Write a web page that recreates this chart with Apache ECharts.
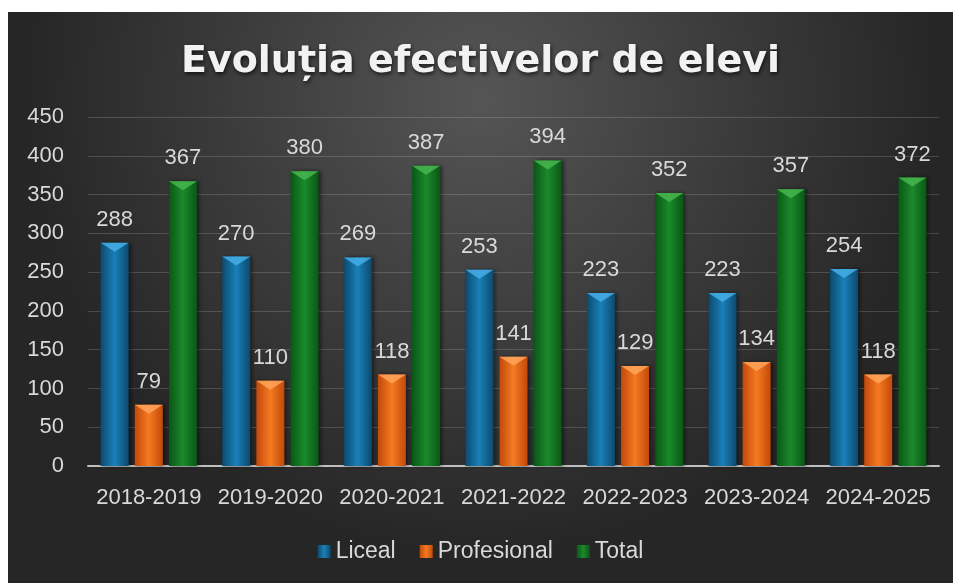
<!DOCTYPE html>
<html>
<head>
<meta charset="utf-8">
<script src="https://cdn.jsdelivr.net/npm/echarts@6/dist/echarts.min.js"></script>
<style>
html, body { margin: 0; padding: 0; background: #ffffff; width: 953px; height: 583px; overflow: hidden; }
.chart { position: absolute; left: 8px; top: 12px; width: 945px; height: 571px; }
</style>
</head>
<body>
<div class="chart" id="main"></div>
<script>
// data
const years = ['2018-2019', '2019-2020', '2020-2021', '2021-2022', '2022-2023', '2023-2024', '2024-2025'];
const liceal = [288, 270, 269, 253, 223, 223, 254];
const profesional = [79, 110, 118, 141, 129, 134, 118];
const total = [367, 380, 387, 394, 352, 357, 372];

const chart = echarts.init(document.getElementById('main'));

// horizontal gradient to get the rounded "3D" look
function barFill(edge, mid) {
	return new echarts.graphic.LinearGradient(0, 0, 1, 0, [
		{ offset: 0, color: edge },
		{ offset: 0.5, color: mid },
		{ offset: 1, color: edge }
	]);
}

const colors = {
	liceal: { edge: '#0c4a6e', mid: '#1a80b8', cap: '#45aee8' },
	profesional: { edge: '#c2490a', mid: '#f57a22', cap: '#ffa55a' },
	total: { edge: '#0a5716', mid: '#1b8a2b', cap: '#48b64e' }
};

const labelStyle = {
	show: true,
	position: 'top',
	distance: 12,
	color: '#d9d9d9',
	fontSize: 22,
	fontFamily: 'Liberation Sans'
};

function barSeries(name, data, c) {
	return {
		name: name,
		type: 'bar',
		data: data,
		barWidth: 28,
		barGap: '22%',
		itemStyle: { color: barFill(c.edge, c.mid), shadowColor: 'rgba(0,0,0,0.5)', shadowBlur: 4, shadowOffsetX: 2 },
		label: labelStyle
	};
}

// light chevron on top of each bar
function capSeries(name, data, c) {
	return {
		name: name,
		type: 'pictorialBar',
		data: data,
		barWidth: 28,
		barGap: '22%',
		symbol: 'triangle',
		symbolRotate: 180,
		symbolSize: [28, 9],
		symbolPosition: 'end',
		symbolOffset: [0, 0],
		itemStyle: { color: c.cap, opacity: 0.85 },
		z: 3,
		silent: true
	};
}

const option = {
	backgroundColor: new echarts.graphic.RadialGradient(0.5, 0.15, 0.8, [
		{ offset: 0, color: '#555555' },
		{ offset: 1, color: '#262626' }
	]),
	title: {
		text: 'Evoluția efectivelor de elevi',
		left: 'center',
		top: 26,
		textStyle: {
			color: '#f2f2f2',
			fontSize: 38,
			fontWeight: 'bold',
			fontFamily: 'DejaVu Sans',
			textShadowColor: 'rgba(0,0,0,0.7)',
			textShadowBlur: 4,
			textShadowOffsetX: 1,
			textShadowOffsetY: 2
		}
	},
	legend: {
		data: ['Liceal', 'Profesional', 'Total'],
		bottom: 15,
		icon: 'rect',
		itemWidth: 13,
		itemHeight: 13,
		itemGap: 24,
		textStyle: { color: '#d9d9d9', fontSize: 23, fontFamily: 'Liberation Sans' }
	},
	grid: {
		left: 80,
		right: 14,
		top: 105,
		bottom: 117
	},
	xAxis: {
		type: 'category',
		data: years,
		axisLine: { lineStyle: { color: '#bfbfbf', width: 2 } },
		axisTick: { show: false },
		axisLabel: { interval: 0, color: '#d9d9d9', fontSize: 22, margin: 21, fontFamily: 'Liberation Sans' }
	},
	yAxis: {
		type: 'value',
		min: 0,
		max: 450,
		interval: 50,
		axisLine: { show: false },
		axisTick: { show: false },
		axisLabel: { color: '#d9d9d9', fontSize: 22, margin: 24, fontFamily: 'Liberation Sans' },
		splitLine: { lineStyle: { color: 'rgba(255,255,255,0.16)', width: 1 } }
	},
	series: [
		barSeries('Liceal', liceal, colors.liceal),
		barSeries('Profesional', profesional, colors.profesional),
		barSeries('Total', total, colors.total),
		capSeries('Liceal', liceal, colors.liceal),
		capSeries('Profesional', profesional, colors.profesional),
		capSeries('Total', total, colors.total)
	]
};

chart.setOption(option);
window.addEventListener('resize', () => {
	if (chart) {
		chart.resize();
	}
});
</script>
</body>
</html>
